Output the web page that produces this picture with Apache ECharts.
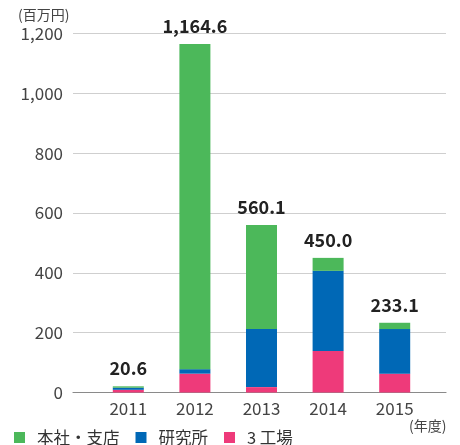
<!DOCTYPE html>
<html>
<head>
<meta charset="utf-8">
<script src="https://cdn.jsdelivr.net/npm/echarts@6/dist/echarts.min.js"></script>
<style>
  html, body { margin: 0; padding: 0; background: #fff; }
  #chart { width: 460px; height: 445px; }
</style>
</head>
<body>
<div id="chart"></div>
<script>
// data
const years = ['2011', '2012', '2013', '2014', '2015'];
const factory = [9, 63, 18, 138.5, 63];        // 3 工場
const lab = [7, 15, 194, 268.2, 149];          // 研究所
const office = [4.6, 1086.6, 348.1, 43.3, 21.1]; // 本社・支店
const totals = ['20.6', '1,164.6', '560.1', '450.0', '233.1'];
const yTicks = [0, 200, 400, 600, 800, 1000, 1200];

const font = '"Noto Sans CJK JP", "Noto Sans", sans-serif';
const green = '#4cb85a';
const blue = '#0068b6';
const pink = '#ee3a7a';

var chart = echarts.init(document.getElementById('chart'));

var option =
{
   animation: false,
   textStyle: { fontFamily: font },
   title: [
      { text: '(百万円)', left: 13, top: 3,
        textStyle: { fontSize: 14, fontWeight: 'normal', color: '#444', fontFamily: font } },
      { text: '(年度)', left: 404, top: 414,
        textStyle: { fontSize: 14, fontWeight: 'normal', color: '#444', fontFamily: font } },
   ],
   legend:
   {
      left: 14,
      top: 429,
      icon: 'rect',
      itemWidth: 11,
      itemHeight: 11,
      itemGap: 16,
      padding: 0,
      data: ['本社・支店', '研究所', '3 工場'],
      textStyle: { fontSize: 16.5, lineHeight: 17, color: '#333', fontFamily: font, padding: [0, 0, 0, 7] },
   },
   grid: [
      { left: 73, right: 14, top: 33.5, bottom: 52.5 },
      { left: 95, right: 32, top: 33.5, bottom: 52.5 },
   ],
   xAxis: [
      {
         gridIndex: 0, type: 'value', min: 0, max: 1,
         axisLabel: { show: false }, axisTick: { show: false }, splitLine: { show: false },
         axisLine: { show: true, lineStyle: { color: '#8a8a8a', width: 1.2 } },
      },
      {
         gridIndex: 1, type: 'category', data: years,
         axisLine: { show: false }, axisTick: { show: false },
         axisLabel: { fontSize: 17, color: '#444', margin: 8, fontFamily: font },
      },
   ],
   yAxis: [
      {
         gridIndex: 0, type: 'value', min: 0, max: 1200, interval: 200,
         axisLine: { show: false }, axisTick: { show: false },
         axisLabel: {
            fontSize: 17, color: '#444', margin: 10, fontFamily: font,
            formatter: v => yTicks.includes(v) ? v.toLocaleString('en-US') : ''
         },
         splitLine: { lineStyle: { color: '#cfcfcf', width: 1.2 } },
      },
      {
         gridIndex: 1, type: 'value', min: 0, max: 1200, show: false,
      },
   ],
   series: [
      { name: '3 工場', type: 'bar', stack: 'a', xAxisIndex: 1, yAxisIndex: 1,
        barWidth: 31, itemStyle: { color: pink }, data: factory },
      { name: '研究所', type: 'bar', stack: 'a', xAxisIndex: 1, yAxisIndex: 1,
        barWidth: 31, itemStyle: { color: blue }, data: lab },
      { name: '本社・支店', type: 'bar', stack: 'a', xAxisIndex: 1, yAxisIndex: 1,
        barWidth: 31, itemStyle: { color: green }, data: office,
        label: {
           show: true, position: 'top', distance: 9,
           fontSize: 18, fontWeight: 'bold', color: '#222', fontFamily: font,
           formatter: p => totals[p.dataIndex]
        } },
   ],
};

chart.setOption(option);
</script>
</body>
</html>
